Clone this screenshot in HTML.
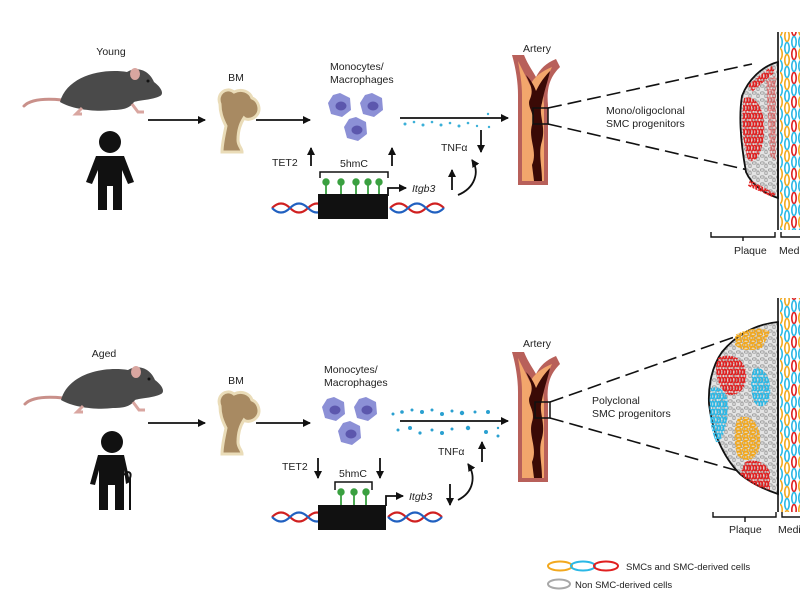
<!DOCTYPE html>
<html><head><meta charset="utf-8"><style>
html,body{margin:0;padding:0;background:#fff;}
svg{display:block;font-family:"Liberation Sans",sans-serif;}
</style></head><body>
<svg width="800" height="600" viewBox="0 0 800 600" xmlns="http://www.w3.org/2000/svg">
<defs>
<marker id="ah" markerWidth="8" markerHeight="8" refX="7" refY="4" orient="auto" markerUnits="userSpaceOnUse"><path d="M0,0 L8,4 L0,8 z" fill="#111"/></marker>
<pattern id="gray" width="8" height="7" patternUnits="userSpaceOnUse">
<rect width="8" height="7" fill="#e4e4e4"/>
<ellipse cx="2.2" cy="2" rx="2" ry="1.2" fill="none" stroke="#9a9a9a" stroke-width="0.9"/>
<ellipse cx="6" cy="5" rx="1.2" ry="2" fill="none" stroke="#9a9a9a" stroke-width="0.9"/>
</pattern>
<pattern id="red" width="6" height="8" patternUnits="userSpaceOnUse">
<ellipse cx="1.8" cy="4" rx="1.4" ry="3.2" fill="none" stroke="#e02020" stroke-width="1.4"/>
<ellipse cx="4.8" cy="4" rx="1.2" ry="2.8" fill="none" stroke="#e02020" stroke-width="1.4"/>
</pattern>
<pattern id="cyan" width="6" height="8" patternUnits="userSpaceOnUse">
<ellipse cx="1.8" cy="4" rx="1.4" ry="3.2" fill="none" stroke="#2ab8e6" stroke-width="1.4"/>
<ellipse cx="4.8" cy="4" rx="1.2" ry="2.8" fill="none" stroke="#2ab8e6" stroke-width="1.4"/>
</pattern>
<pattern id="orange" width="7" height="7" patternUnits="userSpaceOnUse">
<ellipse cx="3" cy="2" rx="3" ry="1.4" fill="none" stroke="#f2a81e" stroke-width="1.5"/>
<ellipse cx="4" cy="5.2" rx="2.6" ry="1.3" fill="none" stroke="#f2a81e" stroke-width="1.5"/>
</pattern>
<pattern id="media" width="21" height="24" patternUnits="userSpaceOnUse">
<ellipse cx="3" cy="6" rx="2.2" ry="5.5" fill="none" stroke="#f2a81e" stroke-width="1.6"/>
<ellipse cx="3" cy="18" rx="2.2" ry="5.5" fill="none" stroke="#2ab8e6" stroke-width="1.6"/>
<ellipse cx="10" cy="0" rx="2.2" ry="5.5" fill="none" stroke="#2ab8e6" stroke-width="1.6"/>
<ellipse cx="10" cy="12" rx="2.2" ry="5.5" fill="none" stroke="#f2a81e" stroke-width="1.6"/>
<ellipse cx="10" cy="24" rx="2.2" ry="5.5" fill="none" stroke="#2ab8e6" stroke-width="1.6"/>
<ellipse cx="17" cy="6" rx="2.2" ry="5.5" fill="none" stroke="#e02020" stroke-width="1.6"/>
<ellipse cx="17" cy="18" rx="2.2" ry="5.5" fill="none" stroke="#2ab8e6" stroke-width="1.6"/>
</pattern>
<g id="mouse">
<path d="M50,38 C30,36 18,38 12,44" fill="none" stroke="#c9908a" stroke-width="3" stroke-linecap="round"/>
<path d="M48,40 C55,14 90,6 115,10 C125,4 137,8 142,20 C150,26 152,32 148,34 C140,38 128,38 122,40 C118,46 112,48 100,48 C85,50 62,48 48,40 z" fill="#4a4a4a"/>
<ellipse cx="123" cy="12" rx="5" ry="6" fill="#d9a6a0"/>
<path d="M70,46 l-6,6 l6,0 M120,42 l6,8 l6,0" stroke="#d9a6a0" stroke-width="3" fill="none"/>
<circle cx="136" cy="19" r="1.5" fill="#111"/>
</g>
<g id="bone">
<path d="M8,18 C4,8 14,0 22,6 C30,2 38,6 40,12 C46,14 50,24 44,30 C40,34 34,34 32,32 C28,38 26,46 26,54 C26,60 30,62 30,66 L10,66 C10,58 12,50 14,40 C10,32 8,26 8,18 z" fill="#a88a62" stroke="#eadcb8" stroke-width="3"/>
</g>
<g id="cell"><path d="M0,-12 L10,-7 L11,5 L2,12 L-9,9 L-12,-2 L-7,-10 z" fill="#8c90d6"/><ellipse cx="1" cy="1" rx="5.5" ry="4.5" fill="#5c57ad"/></g>
<g id="dna">
<path d="M0,0 c6,-6 12,-6 18,0 s12,6 18,0 s12,-6 18,0" fill="none" stroke="#d02020" stroke-width="2.2"/>
<path d="M0,0 c6,6 12,6 18,0 s12,-6 18,0 s12,6 18,0" fill="none" stroke="#2060c0" stroke-width="2.2"/>
</g>
<g id="artery">
<path d="M0,0 L12,0 C16,10 22,18 24,22 C28,14 34,8 44,4 L48,12 C40,20 34,30 36,50 L36,130 L6,130 L6,40 C6,28 4,14 0,0 z" fill="#b8605a"/>
<path d="M6,6 C10,14 14,22 18,30 C22,22 30,16 40,12 C34,24 30,36 32,50 L32,126 L10,126 L10,40 C10,28 8,18 6,6 z" fill="#f2a66c"/>
<path d="M14,20 C18,30 22,34 18,44 C14,52 24,58 20,70 C16,84 26,96 20,110 L22,126 L30,126 C30,110 26,98 30,86 C34,70 26,60 30,48 C32,36 36,26 38,16 C30,24 26,32 24,36 C22,30 18,24 14,20 z" fill="#3a0a06"/>
</g>
</defs>

<!-- ===== TOP PANEL ===== -->
<text x="111" y="55" font-size="10.5" text-anchor="middle" fill="#222">Young</text>
<use href="#mouse" x="12" y="62"/>
<g fill="#111"><circle cx="110" cy="142" r="11"/><path d="M96,156 L124,156 L134,182 L128,184 L122,170 L122,210 L113,210 L113,186 L107,186 L107,210 L98,210 L98,170 L92,184 L86,182 z"/></g>
<line x1="148" y1="120" x2="205" y2="120" stroke="#111" stroke-width="1.8" marker-end="url(#ah)"/>
<text x="236" y="81" font-size="10.5" text-anchor="middle" fill="#222">BM</text>
<use href="#bone" x="212" y="86"/>
<line x1="256" y1="120" x2="310" y2="120" stroke="#111" stroke-width="1.8" marker-end="url(#ah)"/>
<text x="330" y="70" font-size="10.5" fill="#222">Monocytes/</text>
<text x="330" y="83" font-size="10.5" fill="#222">Macrophages</text>
<use href="#cell" x="340" y="105"/><use href="#cell" x="372" y="105"/><use href="#cell" x="356" y="129"/>
<line x1="400" y1="118" x2="508" y2="118" stroke="#111" stroke-width="1.8" marker-end="url(#ah)"/>
<g fill="#3bb0d8"><circle cx="405" cy="124" r="1.5"/><circle cx="414" cy="122" r="1.3"/><circle cx="423" cy="125" r="1.5"/><circle cx="432" cy="122" r="1.3"/><circle cx="441" cy="125" r="1.5"/><circle cx="450" cy="123" r="1.3"/><circle cx="459" cy="126" r="1.5"/><circle cx="468" cy="123" r="1.3"/><circle cx="477" cy="126" r="1.2"/><circle cx="488" cy="114" r="1.2"/><circle cx="489" cy="127" r="1.2"/></g>
<text x="441" y="151" font-size="10.5" fill="#222">TNFα</text>
<line x1="481" y1="130" x2="481" y2="152" stroke="#111" stroke-width="1.8" marker-end="url(#ah)"/>
<text x="272" y="166" font-size="10.5" fill="#222">TET2</text>
<line x1="311" y1="166" x2="311" y2="148" stroke="#111" stroke-width="1.8" marker-end="url(#ah)"/>
<line x1="392" y1="166" x2="392" y2="148" stroke="#111" stroke-width="1.8" marker-end="url(#ah)"/>
<text x="354" y="167" font-size="10.5" text-anchor="middle" fill="#222">5hmC</text>
<path d="M320,178 L320,172 L388,172 L388,178" fill="none" stroke="#111" stroke-width="1.5"/>
<g stroke="#3aa040" stroke-width="1.8" fill="#3aa040"><line x1="326" y1="182" x2="326" y2="194"/><circle cx="326" cy="182" r="2.8"/><line x1="341" y1="182" x2="341" y2="194"/><circle cx="341" cy="182" r="2.8"/><line x1="356" y1="182" x2="356" y2="194"/><circle cx="356" cy="182" r="2.8"/><line x1="368" y1="182" x2="368" y2="194"/><circle cx="368" cy="182" r="2.8"/><line x1="379" y1="182" x2="379" y2="194"/><circle cx="379" cy="182" r="2.8"/></g>
<use href="#dna" x="272" y="208"/><use href="#dna" x="390" y="208"/>
<rect x="318" y="194" width="70" height="25" fill="#111"/>
<path d="M388,196 L388,188 L406,188" fill="none" stroke="#111" stroke-width="1.8" marker-end="url(#ah)"/>
<text x="412" y="192" font-size="10.5" font-style="italic" fill="#222">Itgb3</text>
<line x1="452" y1="190" x2="452" y2="170" stroke="#111" stroke-width="1.8" marker-end="url(#ah)"/>
<path d="M458,195 C475,188 480,172 472,160" fill="none" stroke="#111" stroke-width="1.8" marker-end="url(#ah)"/>
<text x="537" y="52" font-size="10.5" text-anchor="middle" fill="#222">Artery</text>
<use href="#artery" x="512" y="55"/>
<rect x="533" y="108" width="15" height="16" fill="none" stroke="#111" stroke-width="1.5"/>
<line x1="548" y1="108" x2="752" y2="64" stroke="#111" stroke-width="1.6" stroke-dasharray="14,6"/>
<line x1="548" y1="124" x2="748" y2="170" stroke="#111" stroke-width="1.6" stroke-dasharray="14,6"/>
<text x="606" y="114" font-size="10.5" fill="#222">Mono/oligoclonal</text>
<text x="606" y="127" font-size="10.5" fill="#222">SMC progenitors</text>
<rect x="780" y="32" width="20" height="198" fill="url(#media)"/>
<path d="M778,62 C762,66 748,80 742,96 C738,120 742,150 746,172 C752,186 766,194 778,198 z" fill="url(#gray)" stroke="#111" stroke-width="1.8"/>
<path d="M744,98 C756,94 766,110 764,135 C762,155 755,165 748,160 C742,140 741,115 744,98 z" fill="url(#red)"/>
<path d="M748,85 L772,66 L775,72 L752,92 z M750,180 L776,194 L772,197 L748,186 z" fill="url(#red)"/>
<path d="M766,80 L776,76 L776,160 L770,156 z" fill="url(#red)" opacity="0.5"/>
<line x1="778" y1="32" x2="778" y2="230" stroke="#111" stroke-width="1.6"/>
<path d="M711,232 L711,237 L775,237 L775,232 M743,237 L743,241 M781,232 L781,237 L800,237" fill="none" stroke="#111" stroke-width="1.4"/>
<text x="734" y="254" font-size="10.5" fill="#222">Plaque</text>
<text x="779" y="254" font-size="10.5" fill="#222">Med</text>

<!-- ===== BOTTOM PANEL ===== -->
<text x="104" y="357" font-size="10.5" text-anchor="middle" fill="#222">Aged</text>
<g transform="translate(13,360)"><use href="#mouse"/></g>
<g fill="#111"><circle cx="112" cy="442" r="11"/><path d="M98,455 L124,455 L130,482 L126,484 L124,470 L124,510 L115,510 L115,485 L108,485 L108,510 L99,510 L99,470 L95,485 L90,484 z"/></g>
<path d="M124,475 C128,470 132,472 130,478 L130,510" fill="none" stroke="#111" stroke-width="2"/>
<line x1="148" y1="423" x2="205" y2="423" stroke="#111" stroke-width="1.8" marker-end="url(#ah)"/>
<text x="236" y="384" font-size="10.5" text-anchor="middle" fill="#222">BM</text>
<use href="#bone" x="212" y="388"/>
<line x1="256" y1="423" x2="310" y2="423" stroke="#111" stroke-width="1.8" marker-end="url(#ah)"/>
<text x="324" y="373" font-size="10.5" fill="#222">Monocytes/</text>
<text x="324" y="386" font-size="10.5" fill="#222">Macrophages</text>
<use href="#cell" x="334" y="409"/><use href="#cell" x="366" y="409"/><use href="#cell" x="350" y="433"/>
<line x1="400" y1="421" x2="508" y2="421" stroke="#111" stroke-width="1.8" marker-end="url(#ah)"/>
<g fill="#2aa0d0"><circle cx="393" cy="414" r="1.5"/><circle cx="402" cy="412" r="1.8"/><circle cx="412" cy="410" r="1.5"/><circle cx="422" cy="412" r="2"/><circle cx="432" cy="410" r="1.5"/><circle cx="442" cy="414" r="2"/><circle cx="452" cy="411" r="1.5"/><circle cx="462" cy="413" r="2.2"/><circle cx="475" cy="412" r="1.5"/><circle cx="488" cy="412" r="2"/><circle cx="398" cy="430" r="1.5"/><circle cx="410" cy="428" r="2"/><circle cx="420" cy="433" r="1.6"/><circle cx="432" cy="430" r="1.5"/><circle cx="442" cy="433" r="2"/><circle cx="452" cy="429" r="1.5"/><circle cx="468" cy="428" r="2.2"/><circle cx="486" cy="432" r="2"/><circle cx="498" cy="436" r="1.5"/><circle cx="498" cy="428" r="1.2"/></g>
<text x="438" y="455" font-size="10.5" fill="#222">TNFα</text>
<line x1="482" y1="462" x2="482" y2="442" stroke="#111" stroke-width="1.8" marker-end="url(#ah)"/>
<text x="282" y="470" font-size="10.5" fill="#222">TET2</text>
<line x1="318" y1="458" x2="318" y2="478" stroke="#111" stroke-width="1.8" marker-end="url(#ah)"/>
<line x1="380" y1="458" x2="380" y2="478" stroke="#111" stroke-width="1.8" marker-end="url(#ah)"/>
<text x="353" y="477" font-size="10.5" text-anchor="middle" fill="#222">5hmC</text>
<path d="M335,490 L335,482 L372,482 L372,490" fill="none" stroke="#111" stroke-width="1.5"/>
<g stroke="#3aa040" stroke-width="1.8" fill="#3aa040"><line x1="341" y1="492" x2="341" y2="505"/><circle cx="341" cy="492" r="2.8"/><line x1="354" y1="492" x2="354" y2="505"/><circle cx="354" cy="492" r="2.8"/><line x1="366" y1="492" x2="366" y2="505"/><circle cx="366" cy="492" r="2.8"/></g>
<use href="#dna" x="272" y="517"/><use href="#dna" x="388" y="517"/>
<rect x="318" y="505" width="68" height="25" fill="#111"/>
<path d="M386,506 L386,496 L403,496" fill="none" stroke="#111" stroke-width="1.8" marker-end="url(#ah)"/>
<text x="409" y="500" font-size="10.5" font-style="italic" fill="#222">Itgb3</text>
<line x1="450" y1="484" x2="450" y2="505" stroke="#111" stroke-width="1.8" marker-end="url(#ah)"/>
<path d="M458,500 C474,492 476,476 468,464" fill="none" stroke="#111" stroke-width="1.8" marker-end="url(#ah)"/>
<text x="537" y="347" font-size="10.5" text-anchor="middle" fill="#222">Artery</text>
<use href="#artery" x="512" y="352"/>
<rect x="535" y="402" width="15" height="16" fill="none" stroke="#111" stroke-width="1.5"/>
<line x1="550" y1="402" x2="740" y2="335" stroke="#111" stroke-width="1.6" stroke-dasharray="14,6"/>
<line x1="550" y1="418" x2="742" y2="472" stroke="#111" stroke-width="1.6" stroke-dasharray="14,6"/>
<text x="592" y="404" font-size="10.5" fill="#222">Polyclonal</text>
<text x="592" y="417" font-size="10.5" fill="#222">SMC progenitors</text>
<rect x="780" y="298" width="20" height="214" fill="url(#media)"/>
<path d="M778,322 C755,324 735,336 722,352 C712,366 708,386 709,404 C712,430 722,456 740,474 C752,484 766,490 778,494 z" fill="url(#gray)" stroke="#111" stroke-width="1.8"/>
<path d="M735,335 C748,328 762,326 770,332 L762,348 C750,352 740,350 735,345 z" fill="url(#orange)"/>
<path d="M718,358 C730,352 744,358 746,372 C748,388 738,398 726,394 C716,384 714,368 718,358 z" fill="url(#red)"/>
<path d="M711,388 C722,384 730,396 728,412 C726,428 722,444 716,442 C709,426 708,405 711,388 z" fill="url(#cyan)"/>
<path d="M754,368 C765,366 772,380 770,396 C768,406 760,410 754,402 C750,390 750,378 754,368 z" fill="url(#cyan)"/>
<path d="M738,418 C752,413 762,426 760,445 C758,460 746,464 738,456 C733,445 733,430 738,418 z" fill="url(#orange)"/>
<path d="M745,462 C754,458 766,462 770,472 L770,490 C758,488 748,482 740,474 z" fill="url(#red)"/>
<line x1="778" y1="298" x2="778" y2="512" stroke="#111" stroke-width="1.6"/>
<path d="M713,512 L713,517 L776,517 L776,512 M745,517 L745,522 M782,512 L782,517 L800,517" fill="none" stroke="#111" stroke-width="1.4"/>
<text x="729" y="533" font-size="10.5" fill="#222">Plaque</text>
<text x="778" y="533" font-size="10.5" fill="#222">Medi</text>

<!-- legend -->
<ellipse cx="560" cy="566" rx="12" ry="4.5" fill="none" stroke="#f2a81e" stroke-width="2"/>
<ellipse cx="583" cy="566" rx="12" ry="4.5" fill="none" stroke="#2ab8e6" stroke-width="2"/>
<ellipse cx="606" cy="566" rx="12" ry="4.5" fill="none" stroke="#e02020" stroke-width="2"/>
<text x="626" y="570" font-size="9.5" fill="#222">SMCs and SMC-derived cells</text>
<ellipse cx="559" cy="584" rx="11" ry="4.5" fill="none" stroke="#a8a8a8" stroke-width="2"/>
<text x="575" y="588" font-size="9.5" fill="#222">Non SMC-derived cells</text>
</svg>
</body></html>
